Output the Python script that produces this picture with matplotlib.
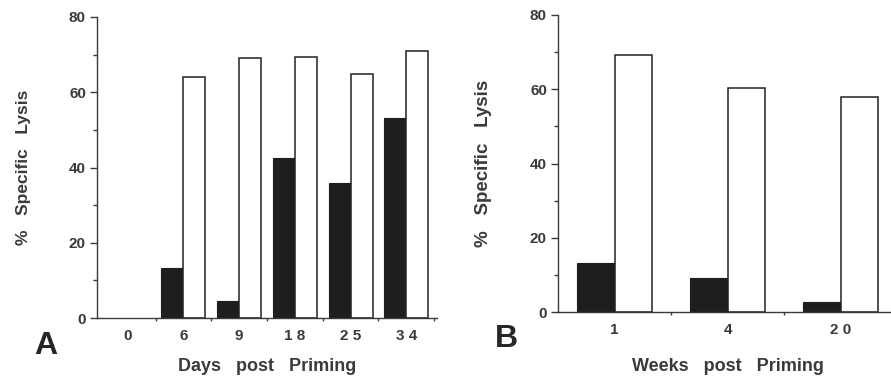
import matplotlib.pyplot as plt
import numpy as np

# panel A : days post priming
days_labels = ['0', '6', '9', '1 8', '2 5', '3 4']
days_black = [0, 13.3, 4.5, 42.6, 35.8, 53.1]
days_white = [0, 64.1, 69.0, 69.5, 64.8, 70.9]

# panel B : weeks post priming
weeks_labels = ['1', '4', '2 0']
weeks_black = [13.2, 9.2, 2.6]
weeks_white = [69.3, 60.4, 58.0]

ink = '#3a3a3a'
plt.rcParams['font.family'] = ['Liberation Sans', 'DejaVu Sans']

fig = plt.figure(figsize=(8.91, 3.79), dpi=100)


def panel(ax, labels, black, white, width, xlabel, xpad, ylsize, ypad, letter, letter_xy):
    x = np.arange(len(labels))
    bb = ax.bar(x - width / 2, black, width, color='#1e1e1e', edgecolor='#1e1e1e', linewidth=0.8)
    wb = ax.bar(x + width / 2, white, width, color='white', edgecolor='#222222', linewidth=1.1)
    # empty groups show no bar at all
    for rect, v in zip(list(bb) + list(wb), list(black) + list(white)):
        if v == 0:
            rect.set_visible(False)

    ax.set_ylim(0, 80)
    ax.set_yticks([0, 20, 40, 60, 80])
    ax.set_yticks([10, 30, 50, 70], minor=True)
    ax.set_xticks(x)
    ax.set_xticklabels(labels)
    ax.set_xticks(np.arange(len(labels)) + 0.5, minor=True)

    for s in ['top', 'right']:
        ax.spines[s].set_visible(False)
    for s in ['left', 'bottom']:
        ax.spines[s].set_color(ink)
        ax.spines[s].set_linewidth(1.0)

    ax.tick_params(axis='y', which='major', direction='out', length=5, width=1, color=ink,
                   labelsize=11, labelcolor=ink, pad=3)
    ax.tick_params(axis='y', which='minor', direction='out', length=3, width=1, color=ink)
    ax.tick_params(axis='x', which='major', length=0, labelsize=11, labelcolor=ink, pad=8)
    ax.tick_params(axis='x', which='minor', direction='out', length=2.5, width=1, color=ink)
    for t in ax.get_xticklabels() + ax.get_yticklabels():
        t.set_fontweight('bold')

    ax.set_xlabel(xlabel, fontsize=13, fontweight='bold', color=ink, labelpad=xpad)
    ax.set_ylabel('%   Specific   Lysis', fontsize=ylsize, fontweight='bold', color=ink, labelpad=ypad)
    fig.text(letter_xy[0], letter_xy[1], letter, fontsize=23, fontweight='bold', color='#262626',
             ha='center', va='center')


axA = fig.add_axes([97 / 891, 1 - 318 / 379, 340 / 891, 301 / 379])
panel(axA, days_labels, days_black, days_white, 0.395, 'Days   post   Priming', 11,
      12.5, 27, 'A', (46 / 891, 1 - 346 / 379))
axA.set_xlim(-0.55, 5.55)

axB = fig.add_axes([558 / 891, 1 - 312 / 379, 339 / 891, 297 / 379])
panel(axB, weeks_labels, weeks_black, weeks_white, 0.336, 'Weeks   post   Priming', 15,
      13.5, 27, 'B', (506 / 891, 1 - 339 / 379))
axB.set_xlim(-0.5, 2.5)

fig.savefig('out.png', dpi=100)
